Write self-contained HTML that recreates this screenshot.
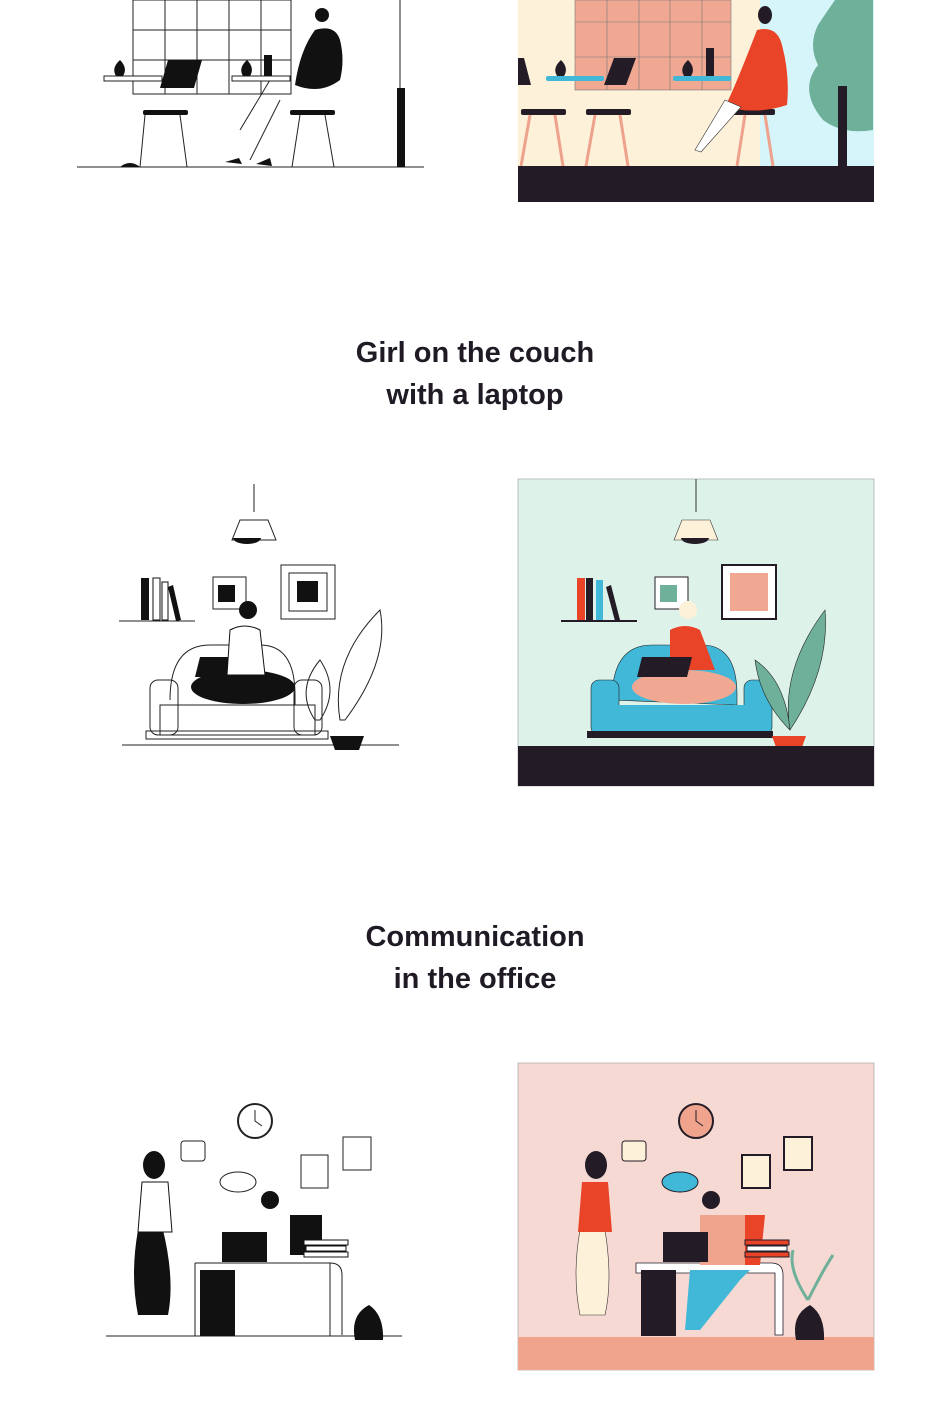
<!DOCTYPE html>
<html><head><meta charset="utf-8"><style>
html,body{margin:0;padding:0;background:#fff;width:950px;height:1416px;overflow:hidden;position:relative}
svg{position:absolute;left:0;top:0}
.h{position:absolute;left:0;width:950px;text-align:center;font-family:"Liberation Sans",sans-serif;font-weight:bold;font-size:29px;color:#1f1a24;line-height:42px}
</style></head><body>
<svg width="950" height="1416" viewBox="0 0 950 1416">
<g stroke="#222" stroke-width="1" fill="none">
<line x1="77" y1="167" x2="424" y2="167"/>
<rect x="133" y="0" width="158" height="94"/>
<line x1="133" y1="30" x2="291" y2="30"/><line x1="133" y1="60" x2="291" y2="60"/>
<line x1="165" y1="0" x2="165" y2="94"/><line x1="197" y1="0" x2="197" y2="94"/><line x1="229" y1="0" x2="229" y2="94"/><line x1="261" y1="0" x2="261" y2="94"/>
<line x1="400" y1="0" x2="400" y2="90"/>
<line x1="145" y1="115" x2="140" y2="167"/><line x1="180" y1="115" x2="187" y2="167"/>
<line x1="300" y1="115" x2="292" y2="167"/><line x1="325" y1="115" x2="334" y2="167"/>
<line x1="240" y1="130" x2="270" y2="80"/><line x1="250" y1="160" x2="280" y2="100"/>
</g>
<rect x="104" y="76" width="58" height="5" fill="#fff" stroke="#222"/>
<rect x="232" y="76" width="58" height="5" fill="#fff" stroke="#222"/>
<path d="M168 60h34l-8 28h-34z" fill="#111"/>
<rect x="143" y="110" width="45" height="5" rx="2" fill="#111"/>
<rect x="290" y="110" width="45" height="5" rx="2" fill="#111"/>
<path d="M116 76q-5-8 4-16q8 8 3 16z" fill="#111"/>
<path d="M243 76q-5-8 4-16q8 8 3 16z" fill="#111"/>
<rect x="264" y="55" width="8" height="21" fill="#111"/>
<path d="M315 30q20-6 25 10q5 20 0 40q-20 15-45 5q5-35 20-55z" fill="#111"/>
<circle cx="322" cy="15" r="7" fill="#111"/>
<rect x="397" y="88" width="8" height="79" fill="#111"/>
<path d="M120 167q10-8 20 0z" fill="#111"/>
<path d="M225 162l14-4 3 6z M256 164l14-6 2 8z" fill="#111"/>

<rect x="518" y="0" width="356" height="202" fill="#fdf1da"/>
<rect x="760" y="0" width="114" height="170" fill="#d6f5fa"/>
<rect x="575" y="0" width="156" height="90" fill="#f1a893" stroke="#777" stroke-width="0.6"/>
<g stroke="#777" stroke-width="0.6"><line x1="575" y1="22" x2="731" y2="22"/><line x1="575" y1="57" x2="731" y2="57"/>
<line x1="607" y1="0" x2="607" y2="90"/><line x1="639" y1="0" x2="639" y2="90"/><line x1="670" y1="0" x2="670" y2="90"/><line x1="702" y1="0" x2="702" y2="90"/></g>
<path d="M835 0h38v130q-30 5-50-10q-25-30-5-55q-10-20 0-40q10-15 17-25z" fill="#6fb09a"/>
<rect x="838" y="86" width="9" height="82" fill="#231c27"/>
<rect x="546" y="76" width="58" height="5" rx="2" fill="#41b8d8"/>
<rect x="673" y="76" width="58" height="5" rx="2" fill="#41b8d8"/>
<path d="M518 58h6l7 27h-13z M614 58h22l-10 27h-22z M770 58h12l-5 27h-14z" fill="#231c27"/>
<rect x="521" y="109" width="45" height="6" rx="2" fill="#231c27"/>
<rect x="586" y="109" width="45" height="6" rx="2" fill="#231c27"/>
<rect x="733" y="109" width="42" height="6" rx="2" fill="#231c27"/>
<g stroke="#eea28b" stroke-width="3"><line x1="530" y1="115" x2="521" y2="166"/><line x1="555" y1="115" x2="563" y2="166"/>
<line x1="595" y1="115" x2="586" y2="166"/><line x1="620" y1="115" x2="628" y2="166"/>
<line x1="745" y1="115" x2="737" y2="166"/><line x1="765" y1="115" x2="773" y2="166"/></g>
<path d="M757 30q20-5 25 15q8 30 5 60q-30 10-62 2q10-20 32-77z" fill="#ea4428"/>
<path d="M725 100l-30 50l6 2l40-45z" fill="#fff" stroke="#333" stroke-width="0.6"/>
<ellipse cx="765" cy="15" rx="7" ry="9" fill="#231c27"/>
<path d="M557 76q-5-8 4-16q8 8 3 16z M684 76q-5-8 4-16q8 8 3 16z" fill="#231c27"/>
<rect x="706" y="48" width="8" height="28" fill="#231c27"/>
<rect x="518" y="166" width="356" height="36" fill="#231c27"/>

<g stroke="#222" stroke-width="1" fill="none">
<line x1="122" y1="745" x2="399" y2="745"/>
<line x1="254" y1="484" x2="254" y2="512"/>
<path d="M240 520h28l8 20h-44z"/>
<path d="M170 700q0-55 40-55h50q35 0 35 50v10"/>
<rect x="150" y="680" width="28" height="55" rx="8"/>
<rect x="294" y="680" width="28" height="55" rx="8"/>
<rect x="160" y="705" width="155" height="30"/>
<rect x="146" y="731" width="182" height="8"/>
<rect x="213" y="577" width="33" height="32"/>
<rect x="281" y="565" width="54" height="54"/>
<rect x="289" y="573" width="38" height="38"/>
<line x1="119" y1="621" x2="195" y2="621"/>
<path d="M315 720q-20-30 5-60q20 30 0 60z M340 720q-10-60 40-110q10 50-35 110z"/>
</g>
<path d="M233 538a14 6 0 0 0 28 0z" fill="#111"/>
<rect x="218" y="585" width="17" height="17" fill="#111"/>
<rect x="297" y="581" width="21" height="21" fill="#111"/>
<rect x="141" y="578" width="8" height="42" fill="#111"/>
<rect x="153" y="578" width="7" height="42" fill="#fff" stroke="#111"/>
<rect x="162" y="582" width="6" height="38" fill="#fff" stroke="#111"/>
<path d="M168 587l5-2l8 35l-5 1z" fill="#111"/>
<ellipse cx="243" cy="687" rx="52" ry="17" fill="#111"/>
<path d="M200 657h50l-5 20h-50z" fill="#111"/>
<path d="M230 630q15-8 30 0l5 45h-38z" fill="#fff" stroke="#111"/>
<circle cx="248" cy="610" r="9" fill="#111"/>
<path d="M330 736h34l-5 14h-24z" fill="#111"/>

<rect x="518" y="479" width="356" height="307" fill="#ddf3ea" stroke="#999" stroke-width="0.6"/>
<line x1="696" y1="479" x2="696" y2="512" stroke="#333"/>
<path d="M682 520h28l8 20h-44z" fill="#fdf1da" stroke="#333" stroke-width="0.6"/>
<path d="M681 538a14 6 0 0 0 28 0z" fill="#231c27"/>
<rect x="655" y="577" width="33" height="32" fill="#fff" stroke="#231c27"/>
<rect x="660" y="585" width="17" height="17" fill="#6fb09a"/>
<rect x="722" y="565" width="54" height="54" fill="#fff" stroke="#231c27" stroke-width="2"/>
<rect x="730" y="573" width="38" height="38" fill="#f1a893"/>
<rect x="577" y="578" width="8" height="42" fill="#ea4428"/>
<rect x="586" y="578" width="7" height="42" fill="#231c27"/>
<rect x="596" y="580" width="7" height="40" fill="#41b8d8"/>
<path d="M606 587l5-2l9 35l-5 1z" fill="#231c27"/>
<line x1="561" y1="621" x2="637" y2="621" stroke="#231c27" stroke-width="2"/>
<path d="M612 700q0-55 40-55h50q35 0 35 50v10z" fill="#41b8d8" stroke="#222" stroke-width="0.6"/>
<rect x="591" y="680" width="28" height="55" rx="8" fill="#41b8d8" stroke="#222" stroke-width="0.6"/>
<rect x="744" y="680" width="28" height="55" rx="8" fill="#41b8d8" stroke="#222" stroke-width="0.6"/>
<rect x="600" y="705" width="160" height="30" fill="#41b8d8"/>
<rect x="587" y="731" width="186" height="7" fill="#231c27"/>
<path d="M670 630q15-8 30 0l15 40h-45z" fill="#ea4428"/>
<circle cx="688" cy="610" r="9" fill="#fdf1da"/>
<ellipse cx="684" cy="687" rx="52" ry="17" fill="#f1a893"/>
<path d="M642 657h50l-5 20h-50z" fill="#231c27"/>
<path d="M790 730q-10-60 35-120q5 60-35 120z M790 730q-30-30-35-70q30 20 35 70z" fill="#6fb09a" stroke="#222" stroke-width="0.6"/>
<path d="M772 736h34l-5 14h-24z" fill="#ea4428"/>
<rect x="518" y="746" width="356" height="40" fill="#231c27"/>

<g stroke="#222" stroke-width="1" fill="none">
<line x1="106" y1="1336" x2="402" y2="1336"/>
<circle cx="255" cy="1121" r="17" stroke-width="2"/>
<path d="M255 1110v11l7 5"/>
<rect x="181" y="1141" width="24" height="20" rx="3"/>
<ellipse cx="238" cy="1182" rx="18" ry="10"/>
<rect x="301" y="1155" width="27" height="33"/>
<rect x="343" y="1137" width="28" height="33"/>
<path d="M195 1263h135q12 0 12 12v60 M195 1263v73"/>
<path d="M330 1263v73"/>
</g>
<path d="M200 1270h35v66h-35z" fill="#111"/>
<path d="M138 1230q10-20 25 0q12 50 5 85h-30q-8-40 0-85z" fill="#111"/>
<ellipse cx="154" cy="1165" rx="11" ry="14" fill="#111"/>
<path d="M142 1182h26l4 50h-34z" fill="#fff" stroke="#111"/>
<rect x="222" y="1232" width="45" height="30" fill="#111"/>
<path d="M290 1215h32v40h-32z" fill="#111"/>
<circle cx="270" cy="1200" r="9" fill="#111"/>
<path d="M355 1340q-5-25 14-35q15 10 14 35z" fill="#111"/>
<g stroke="#111" fill="#fff"><rect x="304" y="1240" width="44" height="5"/><rect x="306" y="1246" width="40" height="5"/><rect x="304" y="1252" width="44" height="5"/></g>

<rect x="518" y="1063" width="356" height="307" fill="#f7d9d3" stroke="#999" stroke-width="0.6"/>
<rect x="518" y="1337" width="356" height="33" fill="#f0a48e"/>
<circle cx="696" cy="1121" r="17" fill="#f0a48e" stroke="#231c27" stroke-width="2"/>
<path d="M696 1110v11l7 5" stroke="#231c27" fill="none"/>
<rect x="622" y="1141" width="24" height="20" rx="3" fill="#fdf1da" stroke="#231c27"/>
<ellipse cx="680" cy="1182" rx="18" ry="10" fill="#41b8d8" stroke="#231c27"/>
<rect x="742" y="1155" width="28" height="33" fill="#fdf1da" stroke="#231c27" stroke-width="2"/>
<rect x="784" y="1137" width="28" height="33" fill="#fdf1da" stroke="#231c27" stroke-width="2"/>
<path d="M580 1230q10-20 25 0q8 50 0 85h-25q-8-40 0-85z" fill="#fdf1da" stroke="#333" stroke-width="0.6"/>
<path d="M582 1182h26l4 50h-34z" fill="#ea4428"/>
<ellipse cx="596" cy="1165" rx="11" ry="14" fill="#231c27"/>
<path d="M636 1263h135q12 0 12 12v60h-8v-62h-139z" fill="#fff" stroke="#231c27" stroke-width="0.8"/>
<path d="M641 1270h35v66h-35z" fill="#231c27"/>
<path d="M700 1215h45v50h-45z" fill="#f0a48e"/>
<path d="M745 1215h20l-5 50h-15z" fill="#ea4428"/>
<circle cx="711" cy="1200" r="9" fill="#231c27"/>
<path d="M690 1270h60l-10 10l-40 50h-15z" fill="#41b8d8"/>
<rect x="663" y="1232" width="45" height="30" fill="#231c27"/>
<g stroke="#231c27" fill="#ea4428"><rect x="745" y="1240" width="44" height="5"/><rect x="747" y="1246" width="40" height="5" fill="#fff"/><rect x="745" y="1252" width="44" height="5"/></g>
<path d="M796 1340q-5-25 14-35q15 10 14 35z" fill="#231c27"/>
<path d="M808 1300q-20-30-15-50 M808 1300q15-30 25-45" stroke="#6fb09a" stroke-width="3" fill="none"/>
</svg>
<div class="h" style="top:332px">Girl on the couch<br>with a laptop</div>
<div class="h" style="top:916px">Communication<br>in the office</div>
</body></html>
